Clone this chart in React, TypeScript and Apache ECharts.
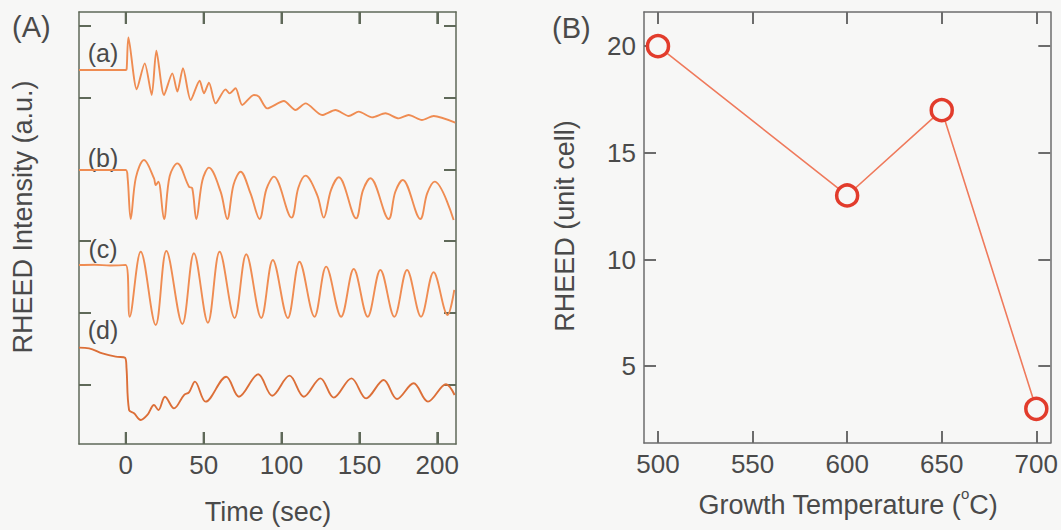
import React, { useEffect, useRef } from "react";
import * as echarts from "echarts";

// Panel A: RHEED intensity traces, [time (s), intensity (a.u., offset)]
const traceA: number[][] = [
  [-30, 5.194], [0, 5.194], [0.6, 5.21], [1.71, 5.648], [7.05, 4.926], [12.18, 5.287], [16.67, 4.847],
  [19.66, 5.463], [24.57, 4.847], [29.91, 5.148], [33.12, 4.894], [36.75, 5.218], [41.67, 4.778],
  [47.44, 5.046], [50.21, 4.87], [53.42, 5.019], [57.69, 4.731], [64.1, 4.926], [66.67, 4.87],
  [70.51, 4.94], [74.79, 4.708], [82.26, 4.847], [85.47, 4.824], [90.81, 4.662], [101.5, 4.764],
  [108.97, 4.639], [115.38, 4.731], [126.07, 4.569], [134.6, 4.639], [143.16, 4.556], [149.57, 4.616],
  [158.12, 4.537], [166.67, 4.593], [175.21, 4.523], [181.62, 4.569], [190.17, 4.5], [197.65, 4.556],
  [211.5, 4.463],
];
const traceB: number[][] = [
  [-30, 3.806], [0, 3.806], [1.2, 3.7], [3.21, 3.125], [6.5, 3.7], [11.75, 3.944], [18.16, 3.69],
  [19.23, 3.597], [20.94, 3.644], [24.57, 3.125], [28.2, 3.72], [33.12, 3.898], [40.6, 3.574],
  [42.7, 3.551], [45.3, 3.125], [49.2, 3.66], [53.42, 3.838], [60.9, 3.505], [65.17, 3.125],
  [69.2, 3.6], [73.72, 3.782], [80.1, 3.48], [85.9, 3.125], [90.3, 3.54], [95.1, 3.713], [106.4, 3.144],
  [110.8, 3.56], [115.4, 3.727], [122.9, 3.458], [127.1, 3.144], [131.8, 3.53], [136.75, 3.704],
  [147.9, 3.134], [152.2, 3.52], [157.05, 3.69], [168.8, 3.125], [173.0, 3.5], [177.8, 3.667],
  [189.1, 3.125], [193.5, 3.48], [198.3, 3.644], [210.5, 3.111],
];
const traceC: number[][] = [
  [-30, 2.486], [-20, 2.49], [-10, 2.48], [0, 2.486], [2.56, 1.768], [9.62, 2.671], [19.23, 1.653],
  [26.09, 2.681], [36.35, 1.667], [43.78, 2.649], [52.76, 1.685], [60.26, 2.671], [69.87, 1.75],
  [77.37, 2.635], [86.99, 1.75], [94.42, 2.556], [104.04, 1.75], [111.54, 2.532], [121.15, 1.768],
  [128.65, 2.463], [138.27, 1.768], [146.35, 2.431], [155.32, 1.768], [163.46, 2.417], [172.44, 1.768],
  [180.58, 2.417], [189.55, 1.768], [197.63, 2.385], [206.6, 1.792], [210.9, 2.14],
];
const traceD: number[][] = [
  [-30, 1.338], [-23.5, 1.329], [-15, 1.259], [-6.4, 1.213], [-0.43, 1.199], [0.5, 1.05], [2.14, 0.472],
  [5.34, 0.426], [9.62, 0.333], [13.89, 0.403], [18.16, 0.542], [20.94, 0.472], [25.21, 0.657],
  [30.98, 0.495], [37.39, 0.68], [40.6, 0.718], [44.44, 0.866], [51.28, 0.588], [64.53, 0.935],
  [72.65, 0.657], [85.04, 0.968], [94.02, 0.671], [105.1, 0.949], [114.3, 0.657], [125, 0.912],
  [133.5, 0.644], [144.9, 0.912], [154.3, 0.634], [165.6, 0.889], [174.1, 0.625], [184.8, 0.843],
  [194, 0.588], [205.6, 0.829], [211.1, 0.681],
];
const timeTicks = [0, 50, 100, 150, 200];
const intensityTicks = [0.82, 1.82, 2.82, 3.81, 4.81, 5.81];
const traceLabels = ["(a)", "(b)", "(c)", "(d)"];

// Panel B: RHEED oscillation count vs growth temperature
const temperatures = [500, 600, 650, 700];
const unitCells = [20, 13, 17, 3];
const tempTicks = [500, 550, 600, 650, 700];
const cellTicks = [5, 10, 15, 20];

const FONT = "'Liberation Sans', Arial, Helvetica, sans-serif";
const TEXT = "#4a4a4a";
const AX_A = "#5f6959";
const AX_B = "#6c6c6c";
const BG = "#f7f7f6";
const TICK_LEN = 12;

function axis(gridIndex: number, position: string, min: number, max: number, ticks: number[], labels: boolean, color: string) {
  return {
    type: "value",
    gridIndex,
    position,
    min,
    max,
    axisLine: { show: true, onZero: false, lineStyle: { color, width: 1.5 } },
    axisTick: { show: true, inside: true, length: TICK_LEN, customValues: ticks, lineStyle: { color, width: 2 } },
    axisLabel: labels
      ? { show: true, customValues: ticks, fontSize: 26, color: TEXT, fontFamily: FONT, margin: 8 }
      : { show: false },
    splitLine: { show: false },
  };
}

export default function App() {
  const ref = useRef<HTMLDivElement>(null);
  useEffect(() => {
    document.body.style.margin = "0";
    const chart = echarts.init(ref.current!, null, { renderer: "svg" });
    const lineColors = ["#ef8c52", "#ef8c52", "#ef8c52", "#dc6f38"];
    const traces = [traceA, traceB, traceC, traceD];
    const labelY = [53, 158, 249, 330];
    chart.setOption({
      animation: false,
      backgroundColor: BG,
      grid: [
        { left: 79, top: 12, width: 377, height: 432, show: false },
        { left: 644, top: 12, width: 407, height: 431, show: false },
      ],
      xAxis: [
        axis(0, "bottom", -30, 212, timeTicks, true, AX_A),
        axis(0, "top", -30, 212, timeTicks, false, AX_A),
        axis(1, "bottom", 492.6, 707.4, tempTicks, true, AX_B),
        axis(1, "top", 492.6, 707.4, tempTicks, false, AX_B),
      ],
      yAxis: [
        axis(0, "left", 0, 6, intensityTicks, false, AX_A),
        axis(0, "right", 0, 6, intensityTicks, false, AX_A),
        axis(1, "left", 1.4, 21.6, cellTicks, true, AX_B),
        axis(1, "right", 1.4, 21.6, cellTicks, false, AX_B),
      ],
      series: [
        ...traces.map((d, i) => ({
          type: "line",
          xAxisIndex: 0,
          yAxisIndex: 0,
          data: d,
          showSymbol: false,
          smooth: i === 0 ? 0.25 : 0.35,
          lineStyle: { color: lineColors[i], width: 1.9 },
        })),
        {
          // time-axis tick marks on bottom and top frame, placed through the axis scale
          type: "custom",
          xAxisIndex: 0,
          yAxisIndex: 0,
          clip: false,
          silent: true,
          data: timeTicks.map((t) => [t, 0]),
          renderItem: (_p: any, api: any) => {
            const t = api.value(0);
            const b = api.coord([t, 0]);
            const tp = api.coord([t, 6]);
            const st = { stroke: AX_A, lineWidth: 2 };
            return {
              type: "group",
              children: [
                { type: "line", shape: { x1: b[0], y1: b[1], x2: b[0], y2: b[1] - TICK_LEN }, style: st },
                { type: "line", shape: { x1: tp[0], y1: tp[1], x2: tp[0], y2: tp[1] + TICK_LEN }, style: st },
              ],
            };
          },
        },
        {
          type: "line",
          xAxisIndex: 2,
          yAxisIndex: 2,
          data: temperatures.map((t, i) => [t, unitCells[i]]),
          symbol: "circle",
          symbolSize: 21,
          lineStyle: { color: "#ef7a5c", width: 1.6 },
          itemStyle: { color: BG, borderColor: "#e23c2c", borderWidth: 3.5 },
          z: 3,
        },
      ],
      graphic: [
        { type: "text", left: 12, top: 12, style: { text: "(A)", fontSize: 29, fill: TEXT, fontFamily: FONT } },
        { type: "text", left: 552, top: 13, style: { text: "(B)", fontSize: 29, fill: TEXT, fontFamily: FONT } },
        ...traceLabels.map((t, i) => ({
          type: "text",
          x: 103,
          y: labelY[i],
          style: { text: t, fontSize: 25, fill: TEXT, fontFamily: FONT, align: "center", verticalAlign: "middle" },
        })),
        {
          type: "text", x: 268, y: 512,
          style: { text: "Time (sec)", fontSize: 27, fill: TEXT, fontFamily: FONT, align: "center", verticalAlign: "middle" },
        },
        {
          type: "text", x: 23, y: 217, rotation: Math.PI / 2,
          style: { text: "RHEED Intensity (a.u.)", fontSize: 27, fill: TEXT, fontFamily: FONT, align: "center", verticalAlign: "middle" },
        },
        {
          type: "text", x: 565, y: 226, rotation: Math.PI / 2,
          style: { text: "RHEED (unit cell)", fontSize: 27, fill: TEXT, fontFamily: FONT, align: "center", verticalAlign: "middle" },
        },
        {
          type: "text", x: 848, y: 502,
          style: {
            text: "{m|Growth Temperature (}{s|o}{m|C)}",
            fontSize: 27, fill: TEXT, fontFamily: FONT, align: "center", verticalAlign: "middle",
            rich: {
              m: { fontSize: 27, fill: TEXT, fontFamily: FONT, lineHeight: 32, verticalAlign: "bottom" },
              s: { fontSize: 15, fill: TEXT, fontFamily: FONT, lineHeight: 32, verticalAlign: "top" },
            },
          },
        },
      ],
    });
    return () => chart.dispose();
  }, []);
  return <div ref={ref} style={{ width: 1061, height: 530 }} />;
}
